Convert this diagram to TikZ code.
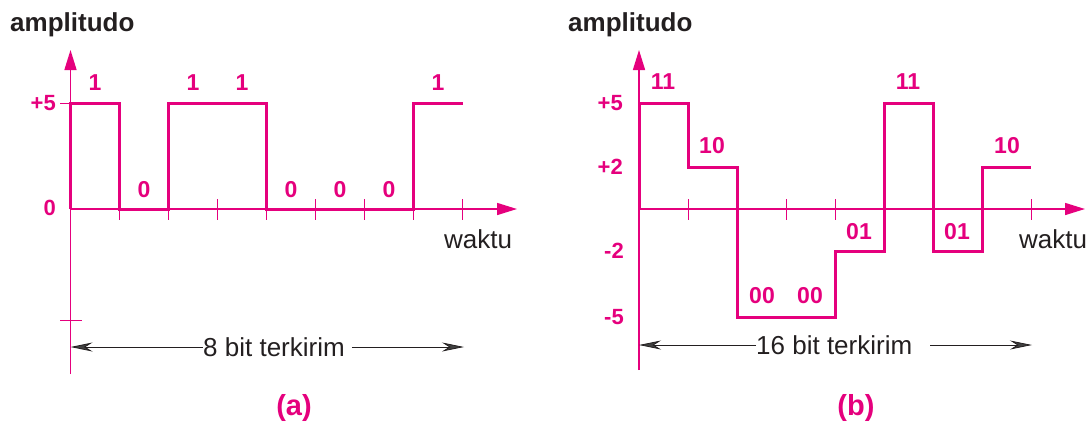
\documentclass[tikz,border=0pt]{standalone}
\usepackage{fontspec}
\setmainfont{Liberation Sans}
\usetikzlibrary{arrows.meta}
\definecolor{mag}{HTML}{E5007D}
\definecolor{ink}{HTML}{231F20}
\definecolor{tipgray}{HTML}{404040}
\begin{document}
\begin{tikzpicture}[x=1pt,y=-1pt,
  axis/.style={mag, line width=1.5pt},
  axarrow/.style={axis, -{Triangle[length=20pt,width=12pt]}},
  wave/.style={mag, line width=3pt, line join=miter},
  tickmark/.style={mag, line width=1pt},
  bitlbl/.style={mag, font=\fontsize{23}{26}\selectfont\bfseries, inner sep=0pt},
  lvllbl/.style={mag, font=\fontsize{22}{25}\selectfont\bfseries, inner sep=0pt},
  ttl/.style={ink, font=\fontsize{26}{30}\selectfont\bfseries, inner sep=0pt},
  plain/.style={ink, font=\fontsize{26}{30}\selectfont, inner sep=0pt},
  dimline/.style={ink, line width=0.8pt, -{Stealth[length=22pt,width=9pt,fill=tipgray]}},
  capt/.style={mag, font=\fontsize{29}{34}\selectfont\bfseries, inner sep=0pt}]
\useasboundingbox (0,0) rectangle (1089,424);

% ---------- panel (a) ----------
\coordinate (oa) at (70.5,209);
\coordinate (yat) at (70.5,50);
\coordinate (yab) at (70.5,374);
\coordinate (xat) at (517,209);
\draw[axis] (yab) -- (oa);
\draw[axarrow] (oa) -- (yat);
\draw[axarrow] (oa) -- (xat);
\foreach \k in {0,...,7}{
  \draw[tickmark] ({119.5+49*\k},199) -- ({119.5+49*\k},220);
}
\draw[tickmark] (60,103) -- (70.5,103);
\draw[tickmark] (60,320) -- (82,320);
\draw[wave] (70.5,209) -- (70.5,103) -- (119.5,103) -- (119.5,209) -- (168.5,209)
  -- (168.5,103) -- (266.5,103) -- (266.5,209) -- (413.5,209) -- (413.5,103) -- (462.5,103);
\node[bitlbl] (a1) at (95,83) {1};
\node[bitlbl] (a2) at (144,190) {0};
\node[bitlbl] (a3) at (193,83) {1};
\node[bitlbl] (a4) at (242,83) {1};
\node[bitlbl] (a5) at (291,190) {0};
\node[bitlbl] (a6) at (340,190) {0};
\node[bitlbl] (a7) at (389,190) {0};
\node[bitlbl] (a8) at (438,83) {1};
\node[lvllbl, anchor=east] (ap5) at (56,103) {+5};
\node[lvllbl, anchor=east] (ap0) at (56,208) {0};
\node[ttl, anchor=west] (aamp) at (10,25) {amplitudo};
\node[plain] (awak) at (478,239) {waktu};
\node[plain, anchor=west] (adim) at (203,347) {8 bit terkirim};
\coordinate (adl) at (70.5,347);
\coordinate (adr) at (464,347);
\draw[dimline] (adim.west) -- (adl);
\draw[dimline] ([xshift=7pt]adim.east) -- (adr);
\node[capt] (acap) at (294,408) {(a)};

% ---------- panel (b) ----------
\coordinate (ob) at (639,209);
\coordinate (ybt) at (639,50);
\coordinate (ybb) at (639,370);
\coordinate (xbt) at (1085,209);
\draw[axis] (ybb) -- (ob);
\draw[axarrow] (ob) -- (ybt);
\draw[axarrow] (ob) -- (xbt);
\foreach \k in {0,...,7}{
  \draw[tickmark] ({688+49*\k},199) -- ({688+49*\k},220);
}
\draw[wave] (639,209) -- (639,103) -- (688,103) -- (688,167) -- (737,167) -- (737,317)
  -- (835,317) -- (835,251) -- (884,251) -- (884,103) -- (933,103) -- (933,251)
  -- (982,251) -- (982,167) -- (1031,167);
\node[bitlbl] (b1) at (663,82) {11};
\node[bitlbl] (b2) at (712,146) {10};
\node[bitlbl] (b3) at (762,296) {00};
\node[bitlbl] (b4) at (810,296) {00};
\node[bitlbl] (b5) at (859,232) {01};
\node[bitlbl] (b6) at (908,82) {11};
\node[bitlbl] (b7) at (957,232) {01};
\node[bitlbl] (b8) at (1007,146) {10};
\node[lvllbl, anchor=east] (bp5) at (623,103) {+5};
\node[lvllbl, anchor=east] (bp2) at (623,167) {+2};
\node[lvllbl, anchor=east] (bm2) at (624,251) {-2};
\node[lvllbl, anchor=east] (bm5) at (624,317) {-5};
\node[ttl, anchor=west] (bamp) at (568,25) {amplitudo};
\node[plain] (bwak) at (1053,239) {waktu};
\node[plain, anchor=west] (bdim) at (756,345) {16 bit terkirim};
\coordinate (bdl) at (639,345);
\coordinate (bdr) at (1032,345);
\draw[dimline] (bdim.west) -- (bdl);
\draw[dimline] ([xshift=18pt]bdim.east) -- (bdr);
\node[capt] (bcap) at (856,408) {(b)};
\end{tikzpicture}
\end{document}
